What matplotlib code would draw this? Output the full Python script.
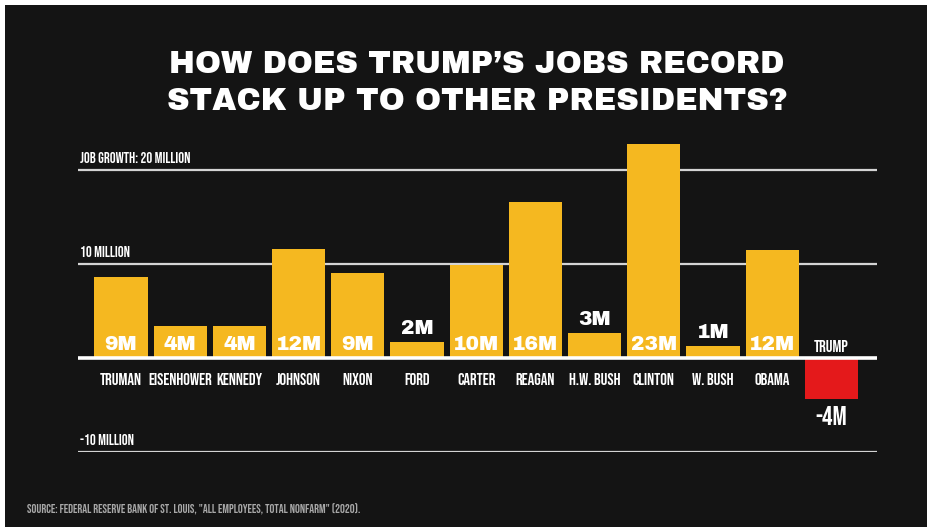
import matplotlib.pyplot as plt

# data (millions of jobs added per presidency)
presidents = ['TRUMAN', 'EISENHOWER', 'KENNEDY', 'JOHNSON', 'NIXON', 'FORD', 'CARTER',
              'REAGAN', 'H.W. BUSH', 'CLINTON', 'W. BUSH', 'OBAMA', 'TRUMP']
jobs = [8.6, 3.4, 3.4, 11.6, 9.0, 1.7, 9.9, 16.6, 2.7, 22.8, 1.3, 11.5, -4.4]
value_labels = ['9M', '4M', '4M', '12M', '9M', '2M', '10M', '16M', '3M', '23M', '1M', '12M', '-4M']
grid_vals = [20, 10, -10]
grid_labels = ['JOB GROWTH: 20 MILLION', '10 MILLION', '-10 MILLION']

BG = '#141414'
YELLOW = '#F5B820'
RED = '#E4191B'
narrow = ['Bebas Neue', 'Oswald', 'DejaVu Sans']
heavy = ['Archivo Black', 'Open Sans', 'DejaVu Sans']

fig = plt.figure(figsize=(9.37, 5.31), dpi=100)
fig.patch.set_facecolor('white')
# dark panel with a thin white border, like the screenshot
fig.add_artist(plt.Rectangle((5/937, 4/531), 922/937, 522/531, transform=fig.transFigure,
                             facecolor=BG, edgecolor='none', zorder=0))

ax = fig.add_axes([78/937, 79/531, 799/937, 312/531])
ax.set_facecolor('none')
ax.set_xlim(-0.726, 12.77)
ax.set_ylim(-10, 23.19)
ax.axis('off')

for g, lab in zip(grid_vals, grid_labels):
    ax.axhline(g, color='#d4d4d4', lw=1.6, zorder=1)
    ax.text(-0.70, g + 0.75, lab, color='white', fontsize=10.5, family=narrow,
            ha='left', va='bottom')

x = list(range(len(presidents)))
colors = [RED if v < 0 else YELLOW for v in jobs]
ax.bar(x, jobs, width=0.9, color=colors, zorder=2)
ax.axhline(0, color='white', lw=2.6, zorder=3)

for i, (name, v, lab) in enumerate(zip(presidents, jobs, value_labels)):
    if v < 0:
        ax.text(i, 1.3, name, color='white', fontsize=12, family=narrow,
                ha='center', va='center')
        ax.text(i, v - 0.7, lab, color='white', fontsize=19, family=narrow,
                ha='center', va='top')
        continue
    ax.text(i, -2.2, name, color='white', fontsize=12, family=narrow,
            ha='center', va='center')
    y = v + 0.4 if v < 3 else 0.4
    ax.text(i, y, lab, color='white', fontsize=14.5, family=heavy,
            fontweight=800, ha='center', va='bottom')

fig.text(477/937, 1 - 65/531, 'HOW DOES TRUMP\u2019S JOBS RECORD', color='white',
         fontsize=22.5, family=heavy, fontweight=800, ha='center', va='center')
fig.text(477/937, 1 - 101/531, 'STACK UP TO OTHER PRESIDENTS?', color='white',
         fontsize=22.5, family=heavy, fontweight=800, ha='center', va='center')

fig.text(27/937, 1 - 508/531,
         'SOURCE: FEDERAL RESERVE BANK OF ST. LOUIS, "ALL EMPLOYEES, TOTAL NONFARM" (2020).',
         color='#a8a8a8', fontsize=8.7, family=narrow, ha='left', va='center')

fig.savefig('out.png', dpi=100, facecolor=fig.get_facecolor())
